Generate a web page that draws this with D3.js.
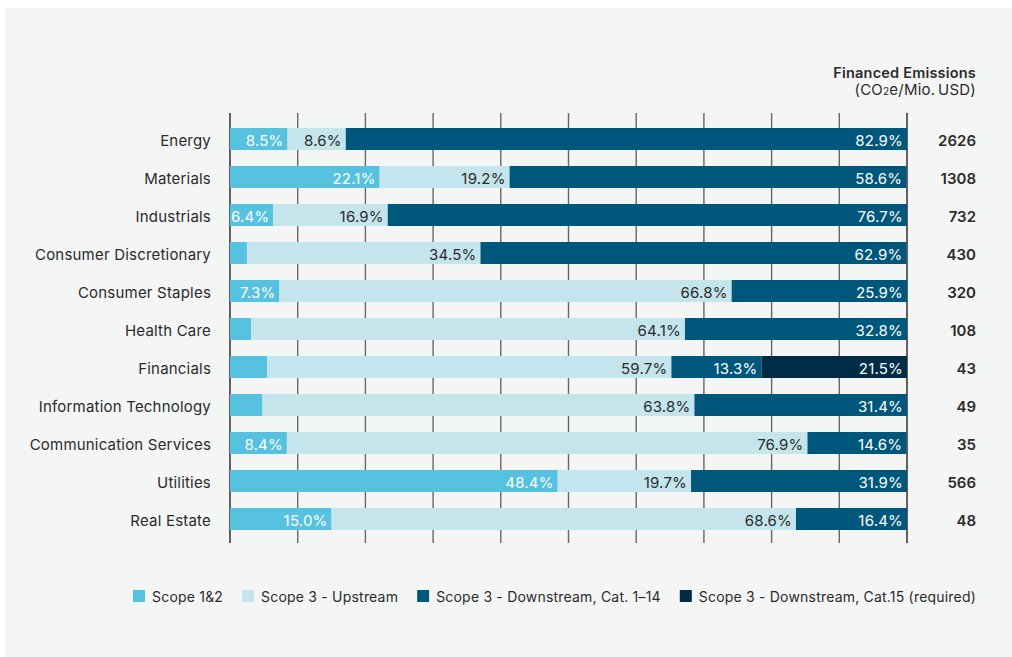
<!DOCTYPE html>
<html>
<head>
<meta charset="utf-8">
<script src="https://cdn.jsdelivr.net/npm/d3@7"></script>
<style>
  html, body { margin: 0; padding: 0; background: #ffffff; }
  svg { display: block; font-family: Inter, "Noto Sans", sans-serif; }
</style>
</head>
<body>
<svg id="chart" width="1012" height="657"></svg>
<script>
// Sector breakdown of financed emissions by scope (share of total, %)
const sectors = [
  "Energy", "Materials", "Industrials", "Consumer Discretionary", "Consumer Staples",
  "Health Care", "Financials", "Information Technology", "Communication Services",
  "Utilities", "Real Estate"
];
const scope12 =      [8.5, 22.1, 6.4, 2.5, 7.3, 3.1, 5.5, 4.8, 8.4, 48.4, 15.0];
const upstream =     [8.6, 19.2, 16.9, 34.5, 66.8, 64.1, 59.7, 63.8, 76.9, 19.7, 68.6];
const downstream =   [82.9, 58.6, 76.7, 62.9, 25.9, 32.8, 13.3, 31.4, 14.6, 31.9, 16.4];
const downstream15 = [0, 0, 0, 0, 0, 0, 21.5, 0, 0, 0, 0];
const intensity =    [2626, 1308, 732, 430, 320, 108, 43, 49, 35, 566, 48];

const seriesNames = [
  "Scope 1&2", "Scope 3 - Upstream",
  "Scope 3 - Downstream, Cat. 1\u201314", "Scope 3 - Downstream, Cat.15 (required)"
];
const seriesColors = ["#56c2e0", "#c4e5eb", "#00577c", "#002d45"];
const labelColors = ["#ffffff", "#2b2b2b", "#ffffff", "#ffffff"];
const xTicks = [0, 10, 20, 30, 40, 50, 60, 70, 80, 90, 100];

const seriesKeys = ["s12", "up", "down", "down15"];
const rows = sectors.map((s, i) => ({
  sector: s, s12: scope12[i], up: upstream[i], down: downstream[i],
  down15: downstream15[i], total: intensity[i]
}));

const svg = d3.select("#chart");
const textColor = "#2b2b2b";
const fs = 15;
const ls = 0.2;

// Panel background
svg.append("rect").attr("x", 5).attr("y", 8).attr("width", 1007).attr("height", 649)
  .attr("fill", "#f4f5f5");

const x = d3.scaleLinear().domain([0, 100]).range([230, 907]);
const y = d3.scaleBand().domain(sectors).range([120, 538])
  .paddingInner(16 / 38).paddingOuter(8 / 38);
const midY = s => y(s) + y.bandwidth() / 2 + 7;

// Vertical gridlines
svg.append("g").selectAll("line").data(xTicks).join("line")
  .attr("x1", d => x(d)).attr("x2", d => x(d))
  .attr("y1", 113).attr("y2", 543)
  .attr("stroke", (d, i) => (i === 0 || i === xTicks.length - 1) ? "#222" : "#666")
  .attr("stroke-width", 1.4);

// Stacked bars
const stacked = d3.stack().keys(seriesKeys)(rows);
const layers = svg.append("g").selectAll("g").data(stacked).join("g")
  .attr("fill", (d, i) => seriesColors[i]);

layers.selectAll("rect").data(d => d).join("rect")
  .attr("x", d => x(d[0]))
  .attr("y", d => y(d.data.sector))
  .attr("width", d => Math.max(0, x(d[1]) - x(d[0])))
  .attr("height", y.bandwidth());

// Segment value labels (right-aligned inside each segment)
stacked.forEach((layer, li) => {
  svg.append("g").selectAll("text")
    .data(layer.filter(d => (d[1] - d[0]) >= 6))
    .join("text")
    .attr("x", d => x(d[1]) - 4)
    .attr("y", d => midY(d.data.sector))
    .attr("text-anchor", "end")
    .attr("font-size", fs)
    .attr("letter-spacing", ls)
    .attr("fill", labelColors[li])
    .text(d => (d[1] - d[0]).toFixed(1) + "%");
});

// Sector labels
svg.append("g").selectAll("text").data(rows).join("text")
  .attr("x", 211)
  .attr("y", d => midY(d.sector))
  .attr("text-anchor", "end")
  .attr("font-size", fs)
  .attr("letter-spacing", ls)
  .attr("fill", textColor)
  .text(d => d.sector);

// Financed emissions intensity column
svg.append("g").selectAll("text").data(rows).join("text")
  .attr("x", 976)
  .attr("y", d => midY(d.sector))
  .attr("text-anchor", "end")
  .attr("font-size", fs)
  .attr("font-weight", 600)
  .attr("fill", textColor)
  .text(d => d.total);

svg.append("text").attr("x", 976).attr("y", 78).attr("text-anchor", "end")
  .attr("font-size", 14.5).attr("font-weight", 600).attr("fill", textColor)
  .attr("letter-spacing", ls)
  .text("Financed Emissions");
const unit = svg.append("text").attr("x", 976).attr("y", 95).attr("text-anchor", "end")
  .attr("font-size", 15).attr("letter-spacing", ls).attr("fill", textColor);
unit.append("tspan").text("(CO");
unit.append("tspan").attr("font-size", 10).text("2");
unit.append("tspan").text("e/Mio.\u2009USD)");

// Legend
const legend = svg.append("g");
let lx = 133;
seriesNames.forEach((name, i) => {
  legend.append("rect").attr("x", lx).attr("y", 590).attr("width", 12).attr("height", 12)
    .attr("fill", seriesColors[i]);
  const t = legend.append("text").attr("x", lx + 19).attr("y", 602)
    .attr("font-size", 14).attr("letter-spacing", ls).attr("fill", textColor).text(name);
  lx += 19 + t.node().getComputedTextLength() + 19;
});
</script>
</body>
</html>
